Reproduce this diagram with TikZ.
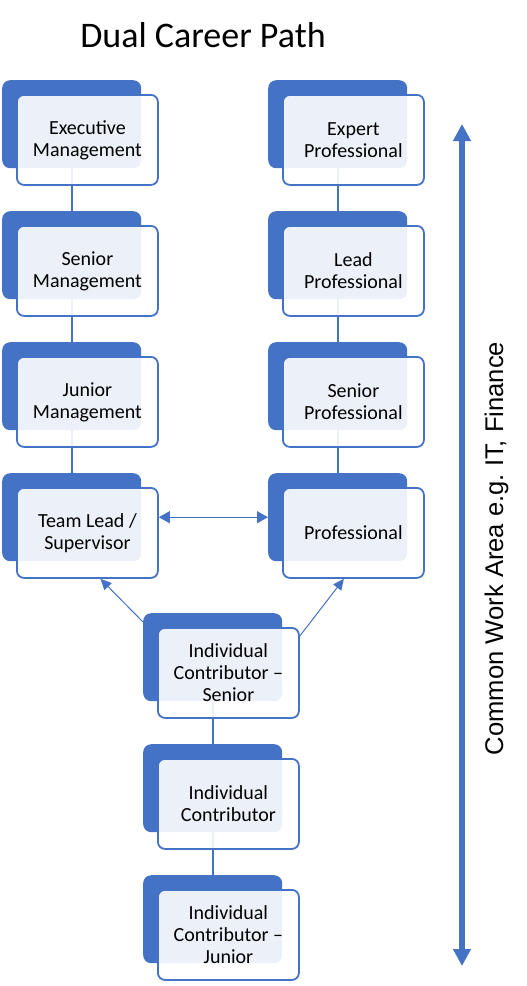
\documentclass[tikz,border=0pt]{standalone}
\usepackage{fontspec}
\setmainfont{Carlito}
\newfontfamily\arialfont{Liberation Sans}
\usetikzlibrary{arrows.meta}
\definecolor{ablue}{HTML}{4472C4}
\begin{document}
\begin{tikzpicture}[x=1pt,y=-1pt,
  backbox/.style={fill=ablue, rounded corners=8pt, minimum width=139pt, minimum height=88pt, inner sep=0pt, anchor=north west},
  frontbox/.style={draw=ablue, line width=1.8pt, fill=white, fill opacity=0.9, text opacity=1, rounded corners=7pt, minimum width=141pt, minimum height=90pt, inner sep=0pt, anchor=north west, align=center, font=\fontsize{20}{22}\selectfont},
  link/.style={draw=ablue, line width=2pt},
  thinarrow/.style={draw=ablue, line width=1pt, -{Triangle[width=10pt,length=11pt]}},
  dblarrow/.style={draw=ablue, line width=1pt, {Triangle[width=12pt,length=11pt]}-{Triangle[width=12pt,length=11pt]}},
  bigarrow/.style={draw=ablue, line width=6pt, {Triangle[width=17pt,length=17pt]}-{Triangle[width=17pt,length=17pt]}},
]
\useasboundingbox (0,0) rectangle (527,986);

% title
\node[anchor=base, font=\fontsize{36}{40}\selectfont, inner sep=0pt] (title) at (203,47) {Dual Career Path};

% back boxes
\node[backbox] (emB) at (2,80) {};
\node[backbox] (smB) at (2,211) {};
\node[backbox] (jmB) at (2,342) {};
\node[backbox] (tlB) at (2,473) {};
\node[backbox] (epB) at (268,80) {};
\node[backbox] (lpB) at (268,211) {};
\node[backbox] (spB) at (268,342) {};
\node[backbox] (proB) at (268,473) {};
\node[backbox] (icsB) at (143,613) {};
\node[backbox] (icB) at (143,744) {};
\node[backbox] (icjB) at (143,875) {};

% links between levels
\draw[link] (emB.south) -- (smB.north);
\draw[link] (smB.south) -- (jmB.north);
\draw[link] (jmB.south) -- (tlB.north);
\draw[link] (epB.south) -- (lpB.north);
\draw[link] (lpB.south) -- (spB.north);
\draw[link] (spB.south) -- (proB.north);
\draw[link] (icsB.south) -- (icB.north);
\draw[link] (icB.south) -- (icjB.north);

% front boxes
\node[frontbox] (emF) at (16,94) {Executive\\Management};
\node[frontbox] (smF) at (16,225) {Senior\\Management};
\node[frontbox] (jmF) at (16,356) {Junior\\Management};
\node[frontbox] (tlF) at (16,487) {Team Lead /\\Supervisor};
\node[frontbox] (epF) at (282,94) {Expert\\Professional};
\node[frontbox] (lpF) at (282,225) {Lead\\Professional};
\node[frontbox] (spF) at (282,356) {Senior\\Professional};
\node[frontbox] (proF) at (282,487) {Professional};
\node[frontbox] (icsF) at (157,627) {Individual\\Contributor \textendash\\Senior};
\node[frontbox] (icF) at (157,758) {Individual\\Contributor};
\node[frontbox] (icjF) at (157,889) {Individual\\Contributor \textendash\\Junior};

% arrows
\draw[dblarrow] (tlF.east |- proB.west) -- (proB.west);
\draw[thinarrow] ([yshift=-9pt]icsB.north west) -- ([xshift=13pt]tlF.south);
\draw[thinarrow] ([yshift=-9pt]icsF.north east) -- ([xshift=-9.5pt]proF.south);

% side arrow and label
\coordinate (topend) at (462,124);
\coordinate (botend) at (462,966);
\draw[bigarrow] (topend) -- (botend);
\node[rotate=90, anchor=base, inner sep=0pt, font=\arialfont\fontsize{25.6}{30}\selectfont] (side) at (503,548.5) {Common Work Area e.g.\ IT, Finance};
\end{tikzpicture}
\end{document}
